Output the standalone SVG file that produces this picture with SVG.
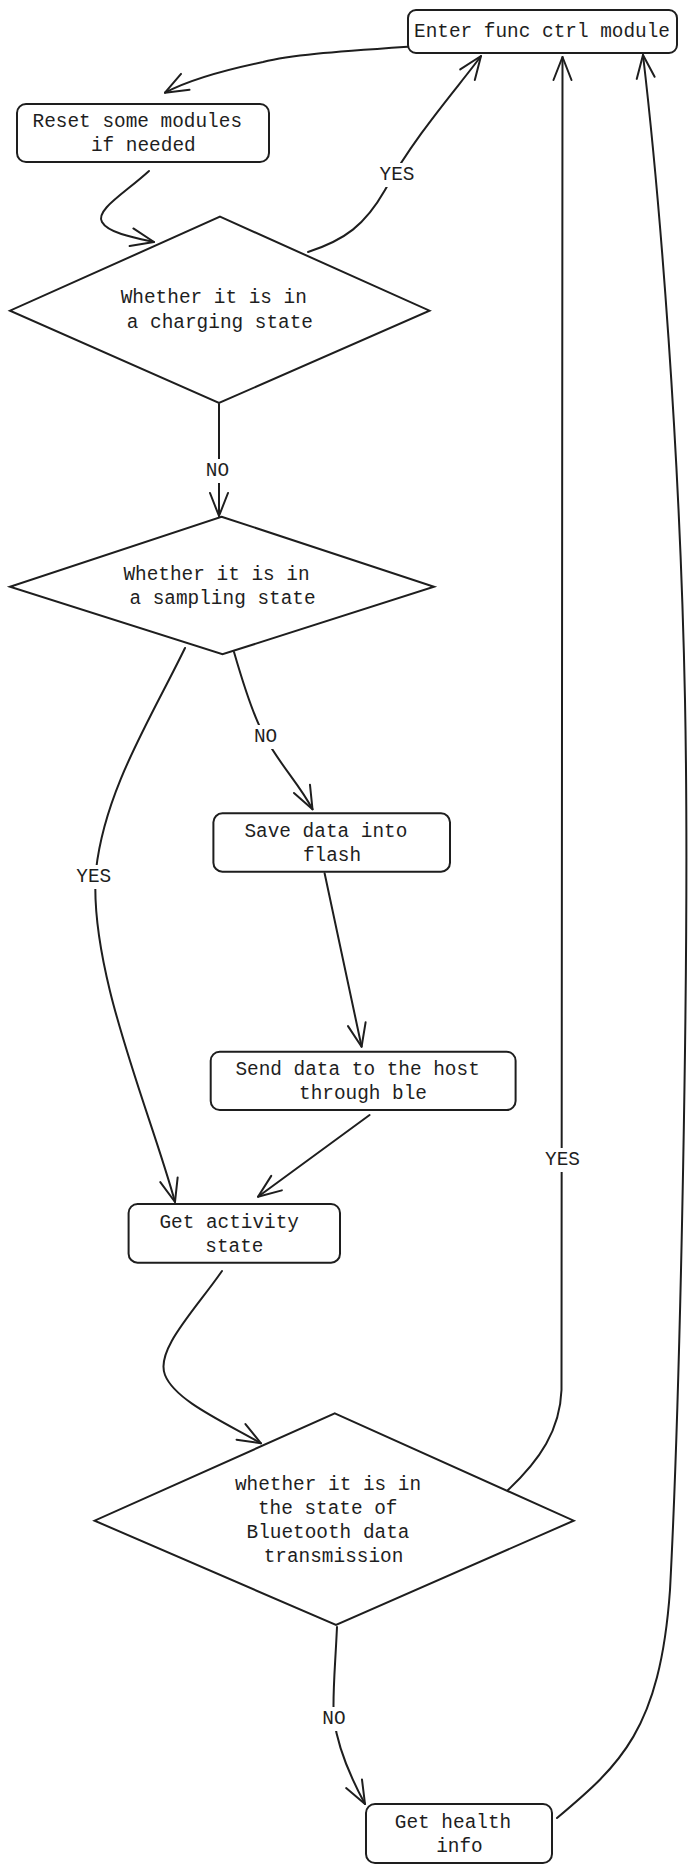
<svg xmlns="http://www.w3.org/2000/svg" width="699" height="1872" viewBox="0 0 699 1872">
<defs>
<style>
.box{fill:#fff;stroke:#1e1e1e;stroke-width:2}
.t{font-family:"Liberation Mono","DejaVu Sans Mono",monospace;font-size:19.4px;fill:#1e1e1e;text-anchor:middle;dominant-baseline:central}
.c{fill:none;stroke:#1e1e1e;stroke-width:2;stroke-linecap:round;stroke-linejoin:round}
.lb{fill:#fff;stroke:none}
</style>
<marker id="ah" markerUnits="userSpaceOnUse" markerWidth="30" markerHeight="30" refX="0" refY="0" viewBox="-26 -13 30 26" orient="auto" overflow="visible">
<path d="M-23,-9 L0,0 L-23,9" fill="none" stroke="#1e1e1e" stroke-width="2" stroke-linecap="round" stroke-linejoin="round"/>
</marker>
</defs>
<rect width="699" height="1872" fill="#fff"/>
<g id="connectors">
<path class="c" d="M407.6,46.7 C330,52 290,55 263,62 C215,72 185,82 165,92.7" marker-end="url(#ah)"/>
<path class="c" d="M149,171 C125,193 95,210 102,222 C108,233 135,238 154,242" marker-end="url(#ah)"/>
<path class="c" d="M308,252 C345,240 365,225 385,190 C415,135 460,85 481,56" marker-end="url(#ah)"/>
<path class="c" d="M219,404 L219,516" marker-end="url(#ah)"/>
<path class="c" d="M185,648 C150,720 105,790 96,870 C88,970 150,1110 175,1202" marker-end="url(#ah)"/>
<path class="c" d="M234,652 C245,690 255,720 265,737 C280,765 300,785 312.5,809.3" marker-end="url(#ah)"/>
<path class="c" d="M324.6,873.3 L361.6,1046.7" marker-end="url(#ah)"/>
<path class="c" d="M369.6,1115 L258,1196.7" marker-end="url(#ah)"/>
<path class="c" d="M222,1271 C195,1310 155,1350 165,1375 C175,1400 220,1420 261,1443.3" marker-end="url(#ah)"/>
<path class="c" d="M508,1490 C540,1460 560,1430 561.5,1390 L562.5,57" marker-end="url(#ah)"/>
<path class="c" d="M337,1627 C335,1670 332,1700 334,1719 C338,1750 352,1780 365,1804" marker-end="url(#ah)"/>
<path class="c" d="M557,1818 C620,1765 660,1730 670,1590 C680,1400 690,950 685,700 C680,450 660,200 643,55" marker-end="url(#ah)"/>
<rect class="lb" x="378" y="163" width="38" height="24"/>
<text class="t" x="397" y="175">YES</text>
<rect class="lb" x="204" y="459" width="27" height="24"/>
<text class="t" x="217.5" y="471">NO</text>
<rect class="lb" x="252" y="725" width="27" height="24"/>
<text class="t" x="265.6" y="737">NO</text>
<rect class="lb" x="75" y="865" width="38" height="24"/>
<text class="t" x="93.8" y="877">YES</text>
<rect class="lb" x="543" y="1148" width="38" height="24"/>
<text class="t" x="562.5" y="1160">YES</text>
<rect class="lb" x="320" y="1707" width="27" height="24"/>
<text class="t" x="334" y="1719">NO</text>
</g>
<g id="enter">
<rect class="box" x="408" y="10" width="269" height="43" rx="8"/>
<text class="t" x="542" y="32.3">Enter func ctrl module</text>
</g>
<g id="reset">
<rect class="box" x="17" y="104" width="252" height="58" rx="9"/>
<text class="t" x="137.3" y="121.7">Reset some modules</text>
<text class="t" x="143.3" y="145.7">if needed</text>
</g>
<g id="charging">
<path class="box" d="M220,216.7 L429.5,310.7 L219,403 L10,310.7 Z"/>
<text class="t" x="213.8" y="298.3">Whether it is in</text>
<text class="t" x="219.9" y="322.7">a charging state</text>
</g>
<g id="sampling">
<path class="box" d="M221.5,516.7 L434,586.7 L222.5,654.3 L10,586.7 Z"/>
<text class="t" x="216.5" y="575">Whether it is in</text>
<text class="t" x="222.5" y="598.7">a sampling state</text>
</g>
<g id="save">
<rect class="box" x="213.4" y="813.3" width="236.6" height="58.4" rx="9"/>
<text class="t" x="325.9" y="832">Save data into</text>
<text class="t" x="332" y="856">flash</text>
</g>
<g id="send">
<rect class="box" x="210.7" y="1051.7" width="304.9" height="58.3" rx="9"/>
<text class="t" x="357.6" y="1070">Send data to the host</text>
<text class="t" x="363" y="1094">through ble</text>
</g>
<g id="activity">
<rect class="box" x="128.6" y="1204" width="211.4" height="58.7" rx="9"/>
<text class="t" x="229.2" y="1222.7">Get activity</text>
<text class="t" x="234.4" y="1246.7">state</text>
</g>
<g id="bluetooth">
<path class="box" d="M334.8,1413.3 L573.7,1520.7 L336,1625 L94.6,1520.7 Z"/>
<text class="t" x="328" y="1485">whether it is in</text>
<text class="t" x="327.7" y="1509">the state of</text>
<text class="t" x="328" y="1532.7">Bluetooth data</text>
<text class="t" x="333.5" y="1556.7">transmission</text>
</g>
<g id="health">
<rect class="box" x="366" y="1804" width="186" height="59" rx="9"/>
<text class="t" x="453" y="1822.7">Get health</text>
<text class="t" x="459.4" y="1846.7">info</text>
</g>
</svg>
